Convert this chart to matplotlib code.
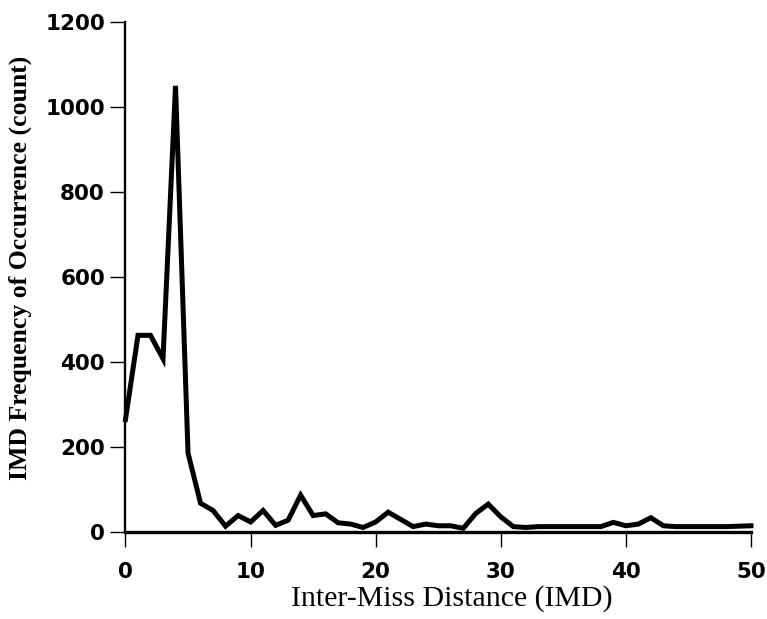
import matplotlib
matplotlib.use("Agg")
import matplotlib.pyplot as plt

# inter-miss distance vs. how often it occurred
imd = list(range(0, 51))
count = [264, 462, 462, 407, 1049, 185, 67, 50, 13, 38,
         23, 50, 15, 27, 86, 38, 42, 21, 18, 10,
         23, 46, 29, 12, 18, 14, 14, 8, 43, 65,
         35, 12, 10, 12, 12, 12, 12, 12, 12, 22,
         14, 18, 33, 14, 12, 12, 12, 12, 12, 13,
         14]

x_ticks = [0, 10, 20, 30, 40, 50]
y_ticks = [0, 200, 400, 600, 800, 1000, 1200]

fig = plt.figure(figsize=(7.67, 6.19), dpi=100)
ax = fig.add_axes([0.1636, 0.141, 0.8155, 0.824])

ax.plot(imd, count, color="black", linewidth=3.6, solid_joinstyle="miter",
        clip_on=False, zorder=3)

ax.set_xlim(0, 50)
ax.set_ylim(0, 1200)
ax.set_xticks(x_ticks)
ax.set_yticks(y_ticks)

for side in ("top", "right"):
    ax.spines[side].set_visible(False)
ax.spines["left"].set_linewidth(1.7)
ax.spines["bottom"].set_linewidth(2.4)

ax.tick_params(axis="x", direction="out", length=10.8, width=1.0, pad=11)
ax.tick_params(axis="y", direction="out", length=10.8, width=1.0, pad=4)
for lab in ax.get_xticklabels() + ax.get_yticklabels():
    lab.set_fontfamily("DejaVu Sans")
    lab.set_fontweight("bold")
    lab.set_fontsize(15.5)

ax.set_xlabel("Inter-Miss Distance (IMD)", family="Liberation Serif",
              fontsize=21.5, va="center")
ax.xaxis.set_label_coords(0.522, -0.131)
ax.set_ylabel("IMD Frequency of Occurrence (count)", family="Liberation Serif",
              fontweight="bold", fontsize=18.5, va="center")
ax.yaxis.set_label_coords(-0.168, 0.517)

fig.savefig("out.png", dpi=100)
